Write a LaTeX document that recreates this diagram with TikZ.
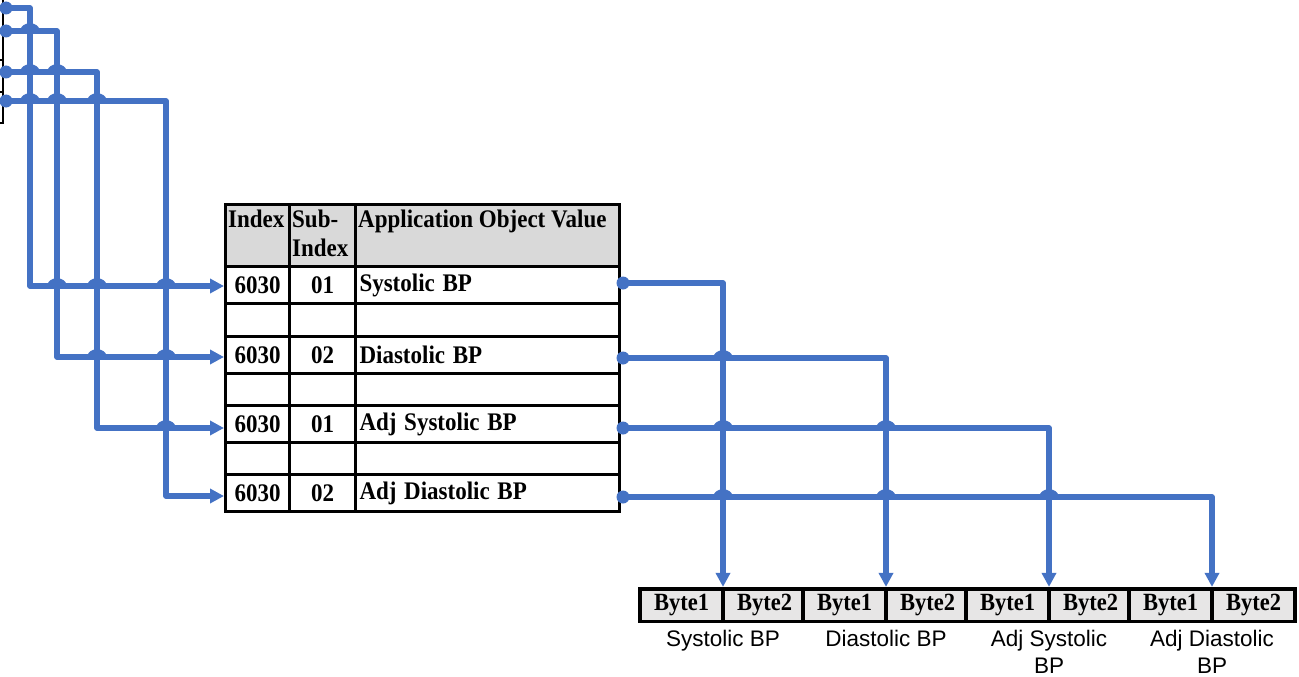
\documentclass[tikz,border=0pt]{standalone}
\usepackage{fontspec}
\setmainfont{Liberation Serif}
\newfontfamily\labelfont{Liberation Sans}
\usetikzlibrary{arrows.meta,fit,calc}

\definecolor{wireblue}{HTML}{4472C4}
\definecolor{headgray}{HTML}{D9D9D9}
\definecolor{bytegray}{HTML}{E7E6E6}

% table and frame text is set slightly taller than wide
\newcommand{\tall}[1]{\scalebox{1}[1.1]{#1}}

\tikzset{
  wire/.style={draw=wireblue, line width=5.5pt, line join=round},
  wirearrow/.style={wire, -{Triangle[length=14pt,width=14pt]}},
  srcdot/.style={circle, fill=wireblue, inner sep=0pt, minimum size=13pt},
  cell/.style={draw=black, line width=3pt, anchor=north west, inner sep=0pt,
    font=\fontsize{23}{26}\selectfont\bfseries},
  headtext/.style={anchor=north west, inner sep=0pt, align=left,
    font=\fontsize{23}{29}\selectfont\bfseries},
  namecell/.style={cell, inner xsep=4pt, text width=256pt, align=left},
  bytecell/.style={draw=black, line width=2pt, fill=bytegray, inner sep=0pt,
    minimum width=81pt, minimum height=31pt, font=\fontsize{22.5}{24}\selectfont\bfseries},
  bytegroup/.style={draw=black, line width=3.2pt, inner sep=0pt},
  bytelabel/.style={anchor=north, align=center, inner sep=0pt,
    font=\labelfont\fontsize{22.5}{26.5}\selectfont},
  wirehop/.pic={\draw[wire, line width=4.5pt] (-7.5,0) arc[start angle=180, end angle=360, x radius=7.5, y radius=5.5];}
}

\begin{document}
\begin{tikzpicture}[x=1pt, y=-1pt]
\useasboundingbox (0,0) rectangle (1299,677);

% bracket of the source block, cut at the left edge
\draw[line width=2pt] (3,0) -- (3,123) -- (0,123);
\draw[line width=2pt] (0,60) -- (3,60);
\draw[line width=2pt] (0,92) -- (3,92);

% ---------- object dictionary table ----------
% header
\node[cell, fill=headgray, minimum width=64pt, minimum height=62pt] (h1) at (224,203) {};
\node[cell, fill=headgray, minimum width=66pt, minimum height=62pt] (h2) at (288,203) {};
\node[cell, fill=headgray, minimum width=264pt, minimum height=62pt] (h3) at (354,203) {};
\node[headtext] (h1t) at ($(h1.north west)+(4,7)$) {\tall{Index}};
\node[headtext] (h2t) at ($(h2.north west)+(4,7)$) {\tall{Sub-}\\\tall{Index}};
\node[headtext] (h3t) at ($(h3.north west)+(4,7)$) {\tall{Application Object Value}};

% body rows (odd rows hold entries, even rows are empty)
\foreach \r/\y/\h/\ix/\sub/\name in {
  1/265/37/6030/01/Systolic BP,
  2/302/33/{}/{}/{},
  3/335/37/6030/02/Diastolic BP,
  4/372/32/{}/{}/{},
  5/404/37/6030/01/Adj Systolic BP,
  6/441/32/{}/{}/{},
  7/473/37/6030/02/Adj Diastolic BP}{
  \node[cell, minimum width=64pt, minimum height=\h pt] (r\r a) at (224,\y) {\tall{\ix}};
  \node[cell, minimum width=66pt, minimum height=\h pt] (r\r b) at (288,\y) {\tall{\sub}};
  \node[namecell, minimum height=\h pt] (r\r c) at (354,\y) {\tall{\name}};
}

% ---------- byte frames ----------
\foreach \g/\cx in {1/723, 2/886, 3/1049, 4/1212}{
  \node[bytecell, anchor=east] (b\g a) at (\cx,605) {\tall{Byte1}};
  \node[bytecell, anchor=west] (b\g b) at (\cx,605) {\tall{Byte2}};
  \node[bytegroup, fit=(b\g a)(b\g b)] (g\g) {};
}
\node[bytelabel] (l1) at (723,630) {Systolic BP};
\node[bytelabel] (l2) at (886,630) {Diastolic BP};
\node[bytelabel] (l3) at (1049,630) {Adj Systolic\\BP};
\node[bytelabel] (l4) at (1212,630) {Adj Diastolic\\BP};

% ---------- source wires into the table ----------
\coordinate (s1) at (6,8);
\coordinate (s2) at (6,31);
\coordinate (s3) at (6,72);
\coordinate (s4) at (6,101);
\coordinate (k1) at (30,0);
\coordinate (k2) at (57,0);
\coordinate (k3) at (97,0);
\coordinate (k4) at (166,0);

% entry points on the left edge and exit points on the right edge
\coordinate (t1) at ($(r1a.west)+(0,1)$);
\coordinate (t3) at ($(r3a.west)+(0,2)$);
\coordinate (t5) at ($(r5a.west)+(0,4)$);
\coordinate (t7) at ($(r7a.west)+(0,3)$);
\coordinate (o1) at ($(r1c.east)+(2,-2)$);
\coordinate (o3) at ($(r3c.east)+(2,3)$);
\coordinate (o5) at ($(r5c.east)+(2,4)$);
\coordinate (o7) at ($(r7c.east)+(2,4)$);

\draw[wirearrow] (s1) -| (k1 |- t1) -- (t1);
\draw[wirearrow] (s2) -| (k2 |- t3) -- (t3);
\draw[wirearrow] (s3) -| (k3 |- t5) -- (t5);
\draw[wirearrow] (s4) -| (k4 |- t7) -- (t7);
\foreach \s in {s1,s2,s3,s4}{\node[srcdot] at (\s) {};}

% hops where wires cross
\pic at (k1 |- s2) {wirehop};
\pic at (k1 |- s3) {wirehop};
\pic at (k2 |- s3) {wirehop};
\pic at (k1 |- s4) {wirehop};
\pic at (k2 |- s4) {wirehop};
\pic at (k3 |- s4) {wirehop};
\pic at (k2 |- t1) {wirehop};
\pic at (k3 |- t1) {wirehop};
\pic at (k4 |- t1) {wirehop};
\pic at (k3 |- t3) {wirehop};
\pic at (k4 |- t3) {wirehop};
\pic at (k4 |- t5) {wirehop};

% ---------- table values out to the byte frames ----------
\draw[wirearrow] (o1) -| (g1.north);
\draw[wirearrow] (o3) -| (g2.north);
\draw[wirearrow] (o5) -| (g3.north);
\draw[wirearrow] (o7) -| (g4.north);
\foreach \r in {o1,o3,o5,o7}{\node[srcdot] at (\r) {};}

\pic at (g1.north |- o3) {wirehop};
\pic at (g1.north |- o5) {wirehop};
\pic at (g2.north |- o5) {wirehop};
\pic at (g1.north |- o7) {wirehop};
\pic at (g2.north |- o7) {wirehop};
\pic at (g3.north |- o7) {wirehop};
\end{tikzpicture}
\end{document}
